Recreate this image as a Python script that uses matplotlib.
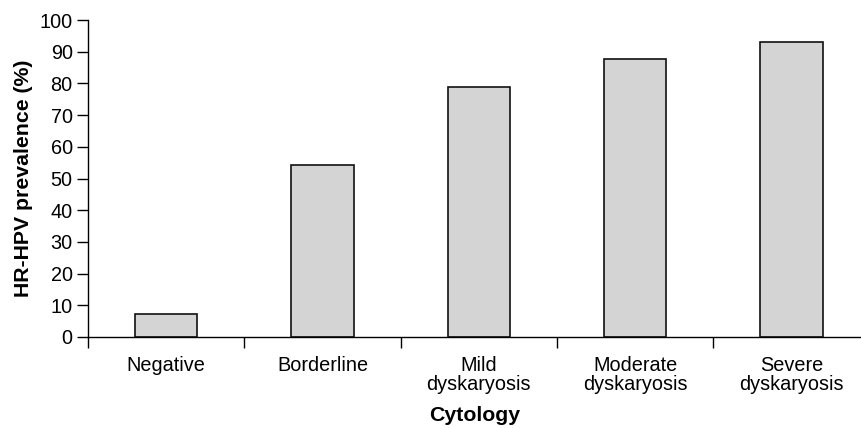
import matplotlib.pyplot as plt
import numpy as np

plt.rcParams['font.family'] = ['Liberation Sans', 'DejaVu Sans']

categories = ['Negative', 'Borderline', 'Mild\ndyskaryosis', 'Moderate\ndyskaryosis', 'Severe\ndyskaryosis']
prevalence = [7.2, 54.2, 79.0, 87.6, 93.0]
yticks = [0, 10, 20, 30, 40, 50, 60, 70, 80, 90, 100]

fig = plt.figure(figsize=(8.61, 4.28), dpi=100)
ax = fig.add_axes([88/861, 91/428, 773/861, 317/428])

x = np.arange(len(categories))
ax.bar(x, prevalence, width=0.4, color='#d4d4d4', edgecolor='#111111', linewidth=1.2)

ax.set_xlim(-0.5, 4.445)
ax.set_ylim(0, 100)
ax.set_yticks(yticks)
ax.tick_params(axis='y', direction='out', length=8, width=1, labelsize=14.3, pad=3)

# boundaries get the ticks, centers get the labels
ax.set_xticks(np.arange(len(categories)) - 0.5)
ax.set_xticklabels([])
ax.tick_params(axis='x', which='major', direction='out', length=8, width=1)
ax.set_xticks(x, minor=True)
ax.set_xticklabels(categories, minor=True, fontsize=14.3, linespacing=1.0, va='top')
ax.tick_params(axis='x', which='minor', length=0, pad=14)

for s in ['top', 'right']:
    ax.spines[s].set_visible(False)
ax.spines['left'].set_linewidth(1)
ax.spines['bottom'].set_linewidth(1)

ax.set_ylabel('HR-HPV prevalence (%)', fontsize=15.3, fontweight='bold', labelpad=5)
ax.set_xlabel('Cytology', fontsize=15.3, fontweight='bold', labelpad=8)

fig.savefig('out.png', dpi=100)
